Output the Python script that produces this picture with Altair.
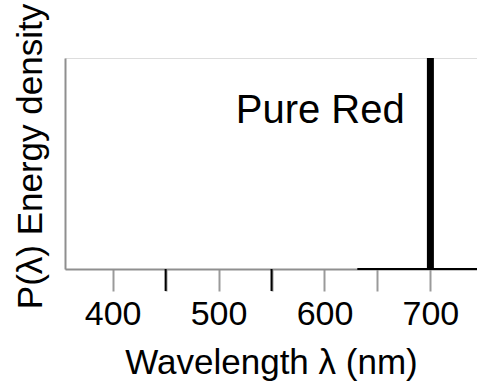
import altair as alt
import pandas as pd

# data
line_wavelength = [700]
line_top = [1.0]
tick_values = [400, 450, 500, 550, 600, 650, 700]
dark_ticks = [450, 550]
dark_axis_segment = [631, 744]
label_text = ["Pure Red"]

W, H = 412, 211
xscale = alt.Scale(domain=[355, 744], nice=False, zero=False)
yscale = alt.Scale(domain=[0, 1], nice=False)

base_df = pd.DataFrame({"wl": line_wavelength, "p": line_top})

spike = alt.Chart(base_df).mark_rule(color="black", strokeWidth=7).encode(
    x=alt.X("wl:Q", scale=xscale, axis=alt.Axis(
        values=tick_values,
        labelExpr="datum.value % 100 == 0 ? datum.label : ''",
        title="Wavelength λ (nm)",
        titleFont="Liberation Sans", titleFontSize=35, titleFontWeight="normal",
        titleColor="black", titleBaseline="alphabetic", titleY=104,
        labelFont="Liberation Sans", labelFontSize=34, labelColor="black",
        labelBaseline="middle", labelPadding=23,
        tickSize=22, tickColor="#9a9a9a", tickWidth=2,
        domainColor="#8f8f8f", domainWidth=2, grid=False,
    )),
    y=alt.Y("p:Q", scale=yscale, axis=alt.Axis(
        title="P(λ) Energy density", labels=False, ticks=False, grid=False,
        titleFont="Liberation Sans", titleFontSize=35, titleFontWeight="normal",
        titleColor="black", titleX=-35, titleY=98, titleBaseline="middle",
        titleAlign="center", titleAngle=270,
        domainColor="#8f8f8f", domainWidth=2,
    )),
    y2=alt.datum(0),
)

seg_df = pd.DataFrame({"a": [dark_axis_segment[0]], "b": [dark_axis_segment[1]]})
seg = alt.Chart(seg_df).mark_rule(color="black", strokeWidth=2).encode(
    x=alt.X("a:Q", scale=xscale), x2="b:Q", y=alt.value(H)
)

tk_df = pd.DataFrame({"t": dark_ticks})
tks = alt.Chart(tk_df).mark_rule(color="black", strokeWidth=2).encode(
    x=alt.X("t:Q", scale=xscale), y=alt.value(H), y2=alt.value(H + 22)
)

txt_df = pd.DataFrame({"lab": label_text})
txt = alt.Chart(txt_df).mark_text(
    font="Liberation Sans", fontSize=40, color="black", align="center", baseline="alphabetic"
).encode(
    text="lab:N", x=alt.datum(596, scale=xscale), y=alt.datum(0.69, scale=yscale)
)

chart = alt.layer(spike, seg, tks, txt).properties(
    width=W, height=H,
    autosize=alt.AutoSizeParams(type="none"),
    padding={"left": 65, "top": 58, "right": 0, "bottom": 112},
).configure_view(stroke=None).configure(background="white")

chart.save("out.html", embed_options={"renderer": "svg", "actions": False})
